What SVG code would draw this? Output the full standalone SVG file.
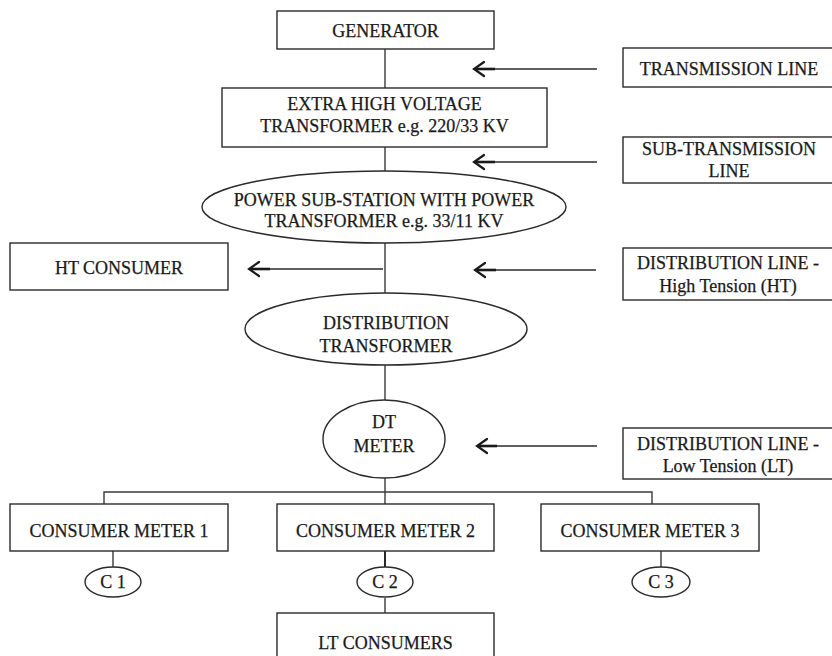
<svg xmlns="http://www.w3.org/2000/svg" width="832" height="656" viewBox="0 0 832 656">
<style>
.box{fill:#fff;stroke:#2a2a2a;stroke-width:1.4}
.t{font-family:"Liberation Serif","Times New Roman",serif;font-size:18px;fill:#1a1a1a;stroke:#1a1a1a;stroke-width:0.25;text-anchor:middle}
.ln{stroke:#3a3a3a;stroke-width:1.4;fill:none}
.arr{stroke:#2a2a2a;stroke-width:1.4;fill:none}
.head{stroke:#1a1a1a;stroke-width:2.2;fill:none;stroke-linecap:round;stroke-linejoin:miter}
.thick{stroke:#1a1a1a;stroke-width:2.6}
</style>
<rect width="832" height="656" fill="#fff"/>
<g id="connectors">
<line class="ln" x1="385" y1="49" x2="385" y2="88"/>
<line class="ln" x1="385" y1="147" x2="385" y2="171"/>
<line class="ln" x1="385" y1="243" x2="385" y2="293"/>
<line class="ln" x1="385" y1="365" x2="385" y2="400"/>
<line class="ln" x1="385" y1="478" x2="385" y2="504"/>
<polyline class="ln" points="104,504 104,492 652,492 652,504"/>
<line class="ln" x1="113" y1="551" x2="113" y2="567"/>
<line class="ln" x1="385" y1="551" x2="385" y2="567" style="stroke:#111;stroke-width:1.8"/>
<line class="ln" x1="661" y1="551" x2="661" y2="567"/>
<line class="ln" x1="385" y1="598" x2="385" y2="613"/>
<g id="arrow-tl">
<line class="arr" x1="597" y1="69" x2="476" y2="69"/>
<line class="thick" x1="476" y1="69" x2="495" y2="69"/>
<polyline class="head" points="484,62 474,69 484,76"/>
</g>
<g id="arrow-stl">
<line class="arr" x1="597" y1="162" x2="476" y2="162"/>
<line class="thick" x1="476" y1="162" x2="495" y2="162"/>
<polyline class="head" points="484,155 474,162 484,169"/>
</g>
<g id="arrow-ht-consumer">
<line class="arr" x1="383" y1="269" x2="251" y2="269"/>
<line class="thick" x1="251" y1="269" x2="270" y2="269"/>
<polyline class="head" points="259,262 249,269 259,276"/>
</g>
<g id="arrow-dlht">
<line class="arr" x1="596" y1="270" x2="477" y2="270"/>
<line class="thick" x1="477" y1="270" x2="496" y2="270"/>
<polyline class="head" points="485,263 475,270 485,277"/>
</g>
<g id="arrow-dllt">
<line class="arr" x1="597" y1="446" x2="478" y2="446"/>
<line class="thick" x1="478" y1="446" x2="497" y2="446"/>
<polyline class="head" points="487,439 477,446 487,453"/>
</g>
</g>
<g id="generator">
<rect class="box" x="277" y="11" width="217" height="38"/>
<text class="t" x="385.5" y="37">GENERATOR</text>
</g>
<g id="ehv-transformer">
<rect class="box" x="222" y="88" width="325" height="59"/>
<text class="t" x="384.5" y="110">EXTRA HIGH VOLTAGE</text>
<text class="t" x="384.5" y="132">TRANSFORMER e.g. 220/33 KV</text>
</g>
<g id="transmission-line">
<rect class="box" x="623" y="48" width="210" height="39"/>
<text class="t" x="729" y="75">TRANSMISSION LINE</text>
</g>
<g id="sub-transmission-line">
<rect class="box" x="623" y="137" width="210" height="46"/>
<text class="t" x="729" y="155">SUB-TRANSMISSION</text>
<text class="t" x="729" y="177">LINE</text>
</g>
<g id="power-substation">
<ellipse class="box" cx="384" cy="207" rx="182" ry="36"/>
<text class="t" x="384" y="206">POWER SUB-STATION WITH POWER</text>
<text class="t" x="384" y="227">TRANSFORMER e.g. 33/11 KV</text>
</g>
<g id="ht-consumer">
<rect class="box" x="10" y="243" width="218" height="47"/>
<text class="t" x="119" y="274">HT CONSUMER</text>
</g>
<g id="distribution-line-ht">
<rect class="box" x="623" y="248" width="210" height="52"/>
<text class="t" x="728" y="269">DISTRIBUTION LINE -</text>
<text class="t" x="728" y="292">High Tension (HT)</text>
</g>
<g id="distribution-transformer">
<ellipse class="box" cx="386" cy="329" rx="141" ry="36"/>
<text class="t" x="386" y="329">DISTRIBUTION</text>
<text class="t" x="386" y="352">TRANSFORMER</text>
</g>
<g id="dt-meter">
<ellipse class="box" cx="384" cy="439" rx="61" ry="39"/>
<text class="t" x="384" y="428">DT</text>
<text class="t" x="384" y="452">METER</text>
</g>
<g id="distribution-line-lt">
<rect class="box" x="623" y="428" width="210" height="51"/>
<text class="t" x="728" y="450">DISTRIBUTION LINE -</text>
<text class="t" x="728" y="472">Low Tension (LT)</text>
</g>
<g id="consumer-meter-1">
<rect class="box" x="10" y="504" width="218" height="47"/>
<text class="t" x="119" y="537">CONSUMER METER 1</text>
</g>
<g id="consumer-meter-2">
<rect class="box" x="277" y="504" width="217" height="47"/>
<text class="t" x="385.5" y="537">CONSUMER METER 2</text>
</g>
<g id="consumer-meter-3">
<rect class="box" x="541" y="504" width="218" height="47"/>
<text class="t" x="650" y="537">CONSUMER METER 3</text>
</g>
<g id="c1">
<ellipse class="box" cx="113" cy="582" rx="28" ry="15"/>
<text class="t" x="113" y="588">C 1</text>
</g>
<g id="c2">
<ellipse class="box" cx="385" cy="582" rx="28" ry="15"/>
<text class="t" x="385" y="588">C 2</text>
</g>
<g id="c3">
<ellipse class="box" cx="661" cy="582" rx="29" ry="15"/>
<text class="t" x="661" y="588">C 3</text>
</g>
<g id="lt-consumers">
<rect class="box" x="277" y="613" width="217" height="60"/>
<text class="t" x="385.5" y="649">LT CONSUMERS</text>
</g>
</svg>
